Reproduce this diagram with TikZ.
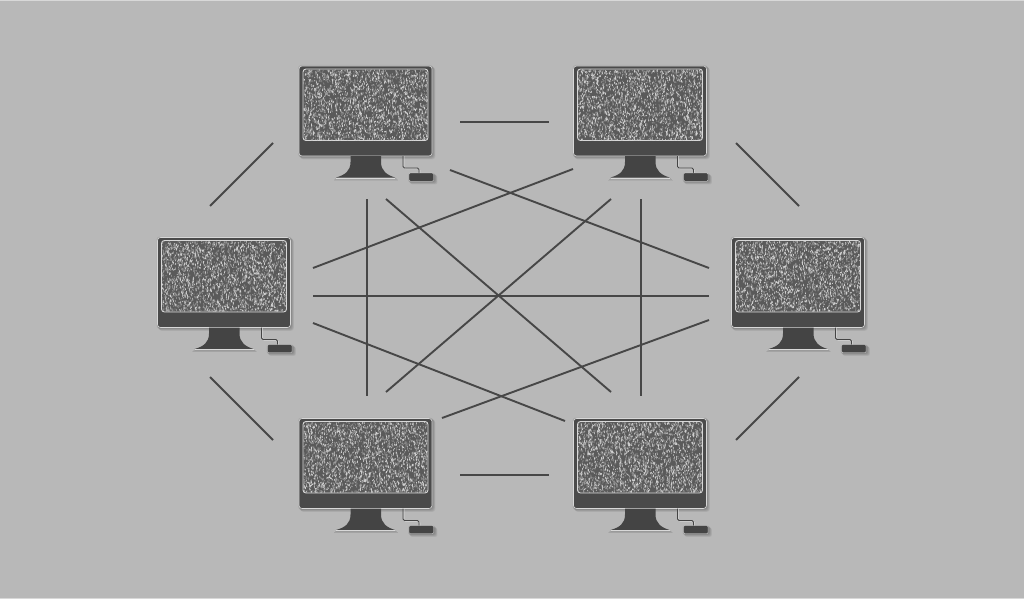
\documentclass[tikz,border=0pt]{standalone}
\usetikzlibrary{calc}
\definecolor{bgc}{HTML}{B8B8B8}
\definecolor{bodyc}{HTML}{4A4A4A}
\definecolor{chinc}{HTML}{444444}
\definecolor{edgec}{HTML}{D8D8D8}
\definecolor{noisebg}{HTML}{5A5A5A}
\definecolor{noisefg}{HTML}{CFCFCF}
\definecolor{noisemid}{HTML}{8E8E8E}
\definecolor{linec}{HTML}{474747}
\tikzset{
  link/.style={draw=linec,line width=1.9pt},
  monitorbox/.style={inner sep=0pt,minimum width=133pt,minimum height=90pt},
  softshadow/.style={black,opacity=.055},
}
\newcommand{\noisepath}[3]{%
  \draw[#1,line width=#2]
  \foreach \k in {1,...,#3}{
    \pgfextra{\pgfmathsetmacro{\xa}{4+125*rnd}\pgfmathsetmacro{\ya}{3+72*rnd}%
      \pgfmathsetmacro{\dx}{1.4*rnd-.7}\pgfmathsetmacro{\dy}{.8+1.8*rnd}}
    (\xa,\ya) -- ++(\dx,\dy)
  };}
\newcommand{\monitor}[3]{%
  \begin{scope}[shift={(#1,#2)}]
    \node[monitorbox,anchor=north west] (#3) at (0,0) {};
    % soft shadows
    \foreach \s in {0,.6,1.2,1.8,2.4}{
      \fill[softshadow,rounded corners=3pt] (\s-1,\s-1) rectangle (135+\s-1,91+\s);
      \fill[softshadow,rounded corners=2pt] (110+\s-1,107+\s) rectangle (136+\s,116+\s);
      \fill[softshadow] (37-\s,112+\s*.8) rectangle (97+\s,113+\s*.8);
    }
    % body
    \fill[bodyc,draw=edgec,line width=.55pt,rounded corners=3pt] (0,0) rectangle (133,90);
    % screen
    \fill[noisebg,draw=edgec,line width=.9pt,rounded corners=3pt] (4,3) rectangle (129,74.5);
    \begin{scope}
      \clip[rounded corners=3pt] (4.5,3.5) rectangle (128.5,74);
      \noisepath{noisemid}{.7pt}{1300}
      \noisepath{noisefg}{.6pt}{1300}
    \end{scope}
    % stand
    \fill[chinc] (51.5,90) -- (51.5,96) .. controls (51.5,105) and (46,109) .. (37,111.5)
      -- (96,111.5) .. controls (88,109) and (82,105) .. (82,96) -- (82,90) -- cycle;
    \draw[edgec,line width=.8pt] (37,112.2) -- (96,112.2);
    % cable and mouse
    \draw[edgec,line width=.5pt,rounded corners=1.5pt] (105,90) -- (105,102.8) -- (121,102.8) -- (121,107.5);
    \draw[chinc,line width=.8pt,rounded corners=1.5pt] (104,90) -- (104,102) -- (120,102) -- (120,107.5);
    \fill[chinc,draw=edgec,line width=.35pt,rounded corners=1.2pt] (110,107) rectangle (134.5,115.2);
  \end{scope}}
\begin{document}
\begin{tikzpicture}[x=1pt,y=-1pt]
  \pgfmathsetseed{4242}
  \useasboundingbox (0,0) rectangle (1024,599);
  \fill[bgc] (0,0) rectangle (1024,599);
  \fill[edgec] (0,0) rectangle (1024,1);
  \fill[edgec] (0,598) rectangle (1024,599);
  \monitor{299}{66}{m1}
  \monitor{573.5}{66}{m2}
  \monitor{157.5}{237.5}{m3}
  \monitor{731.5}{237.5}{m4}
  \monitor{299}{418.5}{m5}
  \monitor{573.5}{418.5}{m6}
  % free ends of the connectors
  \foreach \n/\x/\y in {a1/460/122,a2/549/122,a3/460/475,a4/549/475,
    b1/273/143,b2/210/206,b3/736/143,b4/799/206,b5/210/377,b6/273/440,b7/799/377,b8/736/440,
    c1/313/268,c2/573/169,c3/450/170,c4/709/268,c5/313/296,c6/709/296,
    c7/313/323,c8/565/421,c9/442/418,c10/709/320,
    d1/367/199,d2/367/396,d3/641/199,d4/641/396,
    e1/386/199,e2/611/392,e3/611/199,e4/386/392}{
    \coordinate (\n) at (\x,\y);
  }
  \foreach \p/\q in {a1/a2,a3/a4,b1/b2,b3/b4,b5/b6,b7/b8,c1/c2,c3/c4,c5/c6,c7/c8,c9/c10,d1/d2,d3/d4,e1/e2,e3/e4}{
    \draw[link] (\p) -- (\q);
  }
\end{tikzpicture}
\end{document}
